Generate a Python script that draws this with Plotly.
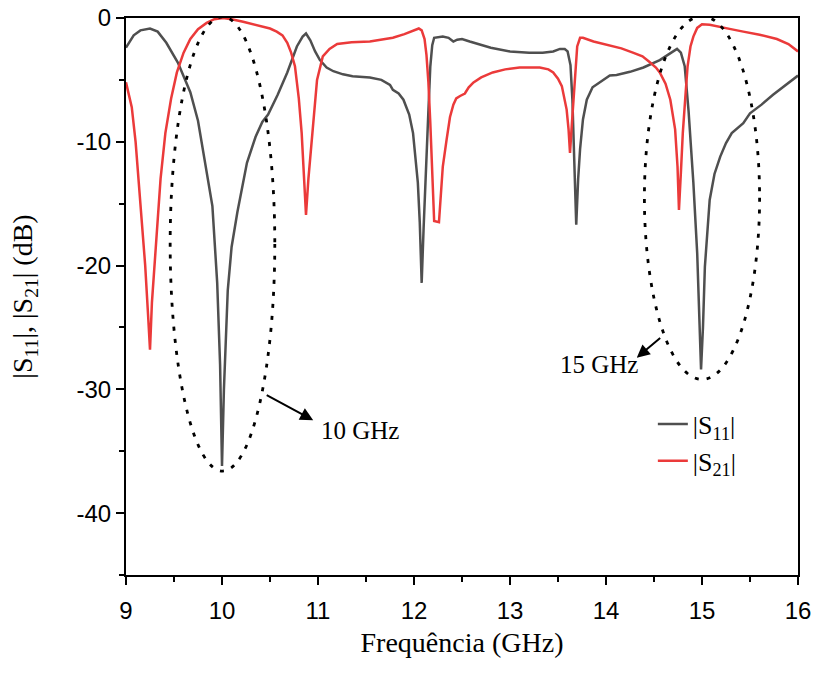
import plotly.graph_objects as go

# |S11| response (frequency in GHz, magnitude in dB)
s11_freq = [9.00, 9.08, 9.15, 9.25, 9.33, 9.42, 9.54, 9.67, 9.75, 9.80, 9.85, 9.90, 9.95, 9.98,
            10.00, 10.02, 10.06, 10.10, 10.16, 10.26, 10.35, 10.42, 10.48, 10.58, 10.68, 10.78,
            10.84, 10.875, 10.92, 10.97, 11.02, 11.09, 11.16, 11.26, 11.36, 11.54, 11.66, 11.75,
            11.78, 11.84, 11.89, 11.95, 11.99, 12.02, 12.04, 12.06, 12.08, 12.10, 12.13, 12.15,
            12.17, 12.19, 12.21, 12.30, 12.36, 12.41, 12.45, 12.50, 12.58, 12.66, 12.80, 13.00,
            13.20, 13.34, 13.45, 13.52, 13.57, 13.60, 13.63, 13.65, 13.67, 13.69, 13.71, 13.73,
            13.76, 13.80, 13.86, 13.94, 14.04, 14.11, 14.25, 14.39, 14.48, 14.56, 14.66, 14.74,
            14.78, 14.82, 14.86, 14.91, 14.95, 14.99, 15.01, 15.03, 15.08, 15.13, 15.19, 15.25,
            15.31, 15.43, 15.50, 15.62, 15.74, 15.87, 16.00]
s11_db = [-2.4, -1.4, -1.0, -0.85, -1.1, -2.0, -3.6, -6.0, -8.3, -10.6, -12.8, -15.2, -21.4, -28.0,
          -36.2, -30.0, -22.0, -18.5, -15.7, -11.7, -9.6, -8.4, -7.8, -6.2, -4.4, -2.3,
          -1.5, -1.25, -1.8, -2.7, -3.4, -4.0, -4.3, -4.55, -4.7, -4.8, -5.0, -5.4,
          -5.8, -6.1, -6.6, -7.8, -9.3, -11.5, -13.3, -16.5, -21.4, -17.0, -12.0, -7.5,
          -3.9, -2.2, -1.6, -1.5, -1.6, -1.9, -1.75, -1.7, -1.9, -2.1, -2.4, -2.7,
          -2.8, -2.8, -2.7, -2.5, -2.5, -2.7, -3.8, -6.6, -11.0, -16.7, -13.0, -10.6,
          -8.2, -6.6, -5.6, -5.2, -4.65, -4.6, -4.35, -4.0, -3.7, -3.4, -2.9, -2.5,
          -2.8, -3.9, -7.5, -13.3, -19.0, -28.4, -25.0, -20.1, -14.7, -12.6, -11.2, -10.1,
          -9.3, -8.5, -7.7, -7.0, -6.2, -5.4, -4.65]

# |S21| response
s21_freq = [9.00, 9.03, 9.06, 9.10, 9.15, 9.20, 9.23, 9.25, 9.27, 9.30, 9.32, 9.36, 9.41, 9.47,
            9.53, 9.60, 9.67, 9.75, 9.84, 9.92, 10.01, 10.10, 10.22, 10.33, 10.43, 10.50, 10.57,
            10.63, 10.68, 10.72, 10.76, 10.80, 10.83, 10.855, 10.875, 10.90, 10.94, 10.99, 11.05,
            11.12, 11.20, 11.35, 11.54, 11.78, 11.90, 11.96, 12.02, 12.05, 12.08, 12.11, 12.13,
            12.15, 12.17, 12.19, 12.21, 12.26, 12.28, 12.30, 12.34, 12.375, 12.41, 12.44, 12.48,
            12.53, 12.57, 12.62, 12.70, 12.82, 12.95, 13.10, 13.31, 13.40, 13.45, 13.50, 13.54,
            13.59, 13.61, 13.625, 13.645, 13.66, 13.68, 13.70, 13.73, 13.76, 13.87, 14.04, 14.16,
            14.28, 14.38, 14.46, 14.52, 14.56, 14.62, 14.67, 14.72, 14.745, 14.76, 14.78, 14.80,
            14.83, 14.85, 14.88, 14.91, 14.95, 15.00, 15.08, 15.16, 15.30, 15.43, 15.60, 15.78,
            15.90, 16.00]
s21_db = [-5.2, -6.2, -7.2, -10.0, -14.7, -20.0, -24.0, -26.8, -23.0, -19.5, -17.4, -13.0, -9.3, -6.5,
          -4.4, -2.8, -1.7, -0.9, -0.4, -0.1, 0.0, -0.1, -0.3, -0.5, -0.7, -0.85, -1.1,
          -1.4, -2.0, -2.8, -3.9, -6.5, -9.3, -13.0, -15.9, -13.0, -9.3, -5.0, -3.1,
          -2.5, -2.1, -1.95, -1.9, -1.6, -1.3, -1.1, -0.9, -0.85, -1.0, -1.7, -3.0,
          -5.2, -8.5, -12.0, -16.4, -16.5, -14.3, -12.0, -9.8, -8.0, -7.0, -6.5, -6.3,
          -6.1, -5.6, -5.2, -4.8, -4.4, -4.15, -4.0, -4.0, -4.15, -4.4, -4.9, -5.5,
          -7.4, -9.0, -10.9, -8.5, -6.6, -4.2, -2.3, -1.6, -1.6, -1.9, -2.2, -2.45,
          -2.8, -3.1, -3.6, -4.0, -4.4, -5.3, -6.6, -9.0, -12.0, -15.5, -12.5, -9.3,
          -6.0, -3.9, -2.3, -1.5, -0.8, -0.5, -0.55, -0.7, -0.9, -1.1, -1.35, -1.7,
          -2.1, -2.7]

x_ticks = [9, 10, 11, 12, 13, 14, 15, 16]
y_ticks = [-40, -30, -20, -10, 0]
y_tick_text = ["-40", "-30", "-20", "-10", "0"]

# Resonance highlight ellipses: (x0, x1, y0, y1)
ellipse_10ghz = (9.46, 10.55, -36.6, 0.1)
ellipse_15ghz = (14.40, 15.60, -29.2, 0.15)

serif = "Liberation Serif"
sans = "Liberation Sans"

fig = go.Figure()
fig.add_trace(go.Scatter(x=s11_freq, y=s11_db, mode="lines", name="|S<sub>11</sub>|",
                         line=dict(color="#4f4f4f", width=2.5)))
fig.add_trace(go.Scatter(x=s21_freq, y=s21_db, mode="lines", name="|S<sub>21</sub>|",
                         line=dict(color="#eb3a3a", width=2.5)))

for (x0, x1, y0, y1) in (ellipse_10ghz, ellipse_15ghz):
    fig.add_shape(type="circle", xref="x", yref="y", x0=x0, x1=x1, y0=y0, y1=y1,
                  line=dict(color="black", width=2.8, dash="4px,8px"))

# Labels with arrows for the two resonances
fig.add_annotation(x=10.95, y=-32.5, ax=10.45, ay=-30.4, xref="x", yref="y",
                   axref="x", ayref="y", text="", showarrow=True,
                   arrowhead=2, arrowsize=1.3, arrowwidth=2, arrowcolor="black")
fig.add_annotation(x=11.44, y=-33.3, xref="x", yref="y", text="10 GHz", showarrow=False,
                   font=dict(family=serif, size=25, color="black"))
fig.add_annotation(x=14.32, y=-27.45, ax=14.58, ay=-25.75, xref="x", yref="y",
                   axref="x", ayref="y", text="", showarrow=True,
                   arrowhead=2, arrowsize=1.3, arrowwidth=2, arrowcolor="black")
fig.add_annotation(x=13.93, y=-28.0, xref="x", yref="y", text="15 GHz", showarrow=False,
                   font=dict(family=serif, size=25, color="black"))

fig.update_layout(
    width=818, height=674,
    margin=dict(l=126, r=20, t=18, b=99),
    paper_bgcolor="white", plot_bgcolor="white",
    showlegend=True,
    legend=dict(x=0.784, y=0.313, xanchor="left", yanchor="top",
                bgcolor="rgba(0,0,0,0)", font=dict(family=serif, size=26, color="black"),
                tracegroupgap=0),
)
fig.update_xaxes(
    range=[9, 16], tickvals=x_ticks, showgrid=False, zeroline=False, automargin=False,
    showline=True, linecolor="black", linewidth=2, mirror=True,
    ticks="outside", ticklen=8, tickwidth=2, tickcolor="black", ticklabelstandoff=5,
    minor=dict(ticks="outside", ticklen=5, tickwidth=2, dtick=0.5, tickcolor="black"),
    tickfont=dict(family=sans, size=24, color="black"),
    title=dict(text="Frequência (GHz)", font=dict(family=serif, size=28, color="black"), standoff=10),
)
fig.update_yaxes(
    range=[-45, 0], tickvals=y_ticks, ticktext=y_tick_text, showgrid=False, zeroline=False,
    automargin=False,
    showline=True, linecolor="black", linewidth=2, mirror=True,
    ticks="outside", ticklen=8, tickwidth=2, tickcolor="black",
    minor=dict(ticks="outside", ticklen=5, tickwidth=2, tickvals=[-45, -35, -25, -15, -5], tickcolor="black"),
    tickfont=dict(family=sans, size=24, color="black"),
    title=dict(text="|S<sub>11</sub>|, |S<sub>21</sub>| (dB)", font=dict(family=serif, size=28, color="black"),
               standoff=36),
)

fig.write_html("out.html")
